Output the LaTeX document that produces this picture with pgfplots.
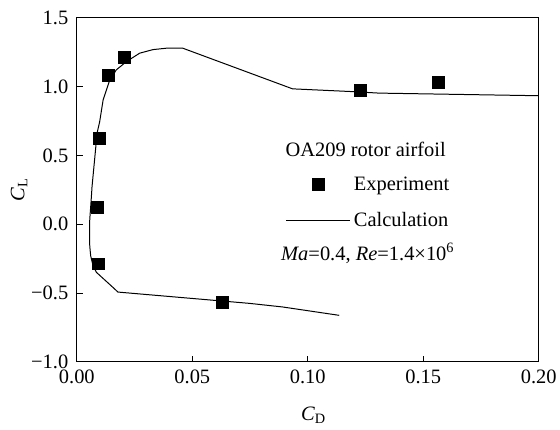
\documentclass[border=0pt]{standalone}
\usepackage{fontspec}
\setmainfont{Liberation Serif}
\usepackage{pgfplots}
\pgfplotsset{compat=1.18}

\begin{document}
\begin{tikzpicture}
\begin{axis}[
  scale only axis,
  width=463pt, height=345pt,
  xmin=0, xmax=0.20, ymin=-1.0, ymax=1.5,
  xtick={0,0.05,0.10,0.15,0.20},
  xticklabels={0.00,0.05,0.10,0.15,0.20},
  ytick={-1,-0.5,0,0.5,1,1.5},
  yticklabels={−1.0,−0.5,0.0,0.5,1.0,1.5},
  tick pos=left,
  tick align=inside,
  major tick length=6pt,
  tick style={line width=0.9pt, black},
  axis line style={line width=1pt},
  font=\fontsize{20.5}{24}\selectfont,
  xticklabel style={yshift=-5pt},
  yticklabel style={xshift=-5pt},
  xlabel={\textit{C}\textsubscript{D}},
  ylabel={\textit{C}\textsubscript{L}},
  every axis x label/.style={at={(axis description cs:0.512,-0.170)}, anchor=base, inner sep=0pt},
  every axis y label/.style={at={(axis description cs:-0.125,0.5)}, rotate=90, anchor=center, inner sep=0pt},
  legend style={draw=none, fill=none, at={(axis cs:0.0903,0.36)}, anchor=north west,
    inner sep=0pt, row sep=17pt, font=\fontsize{20.5}{24}\selectfont},
  legend cell align=left,
  clip=false,
]
% Experiment
\addplot[only marks, mark=square*, mark size=6pt, black,
  legend image code/.code={
    \path[draw=none] (0pt,0pt) -- (66pt,0pt);
    \path[draw=none] plot[only marks, mark=square*, mark size=6pt, mark options={fill=black, draw=black}] coordinates {(32pt,0pt)};}]
  coordinates {
    (0.0092,-0.287) (0.0089,0.124) (0.0096,0.624) (0.0135,1.085)
    (0.0207,1.213) (0.0628,-0.570) (0.1227,0.976) (0.1565,1.029)
  };
\addlegendentry{Experiment}
% Calculation
\addplot[black, line width=1pt, mark=none,
  legend image code/.code={\draw[line width=1pt] (0pt,0pt) -- (64pt,0pt); \path[draw=none] (64pt,0pt) -- (66pt,0pt);}]
  coordinates {
    (0.1136,-0.662) (0.0890,-0.601) (0.0747,-0.575) (0.0178,-0.493)
    (0.0157,-0.460) (0.0085,-0.350) (0.0070,-0.300) (0.0060,-0.230)
    (0.0056,-0.160) (0.0055,-0.050) (0.0056,0.034) (0.0061,0.150)
    (0.0066,0.276) (0.0077,0.470) (0.0088,0.664) (0.0099,0.745)
    (0.0114,0.904) (0.0143,1.049) (0.0171,1.121) (0.0215,1.181)
    (0.0272,1.242) (0.0330,1.268) (0.0387,1.278) (0.0459,1.278)
    (0.0934,0.983) (0.1179,0.964) (0.1309,0.952) (0.2000,0.933)
  };
\addlegendentry{Calculation}
\node[anchor=base west, inner sep=0pt] at (axis cs:0.0903,0.491) {OA209 rotor airfoil};
\node[anchor=base west, inner sep=0pt] at (axis cs:0.0884,-0.262)
  {\textit{Ma}=0.4, \textit{Re}=1.4×10\textsuperscript{6}};
\end{axis}
\path (current axis.south west) +(-77pt,-67.3pt) rectangle +(483pt,362.7pt);
\end{tikzpicture}
\end{document}
